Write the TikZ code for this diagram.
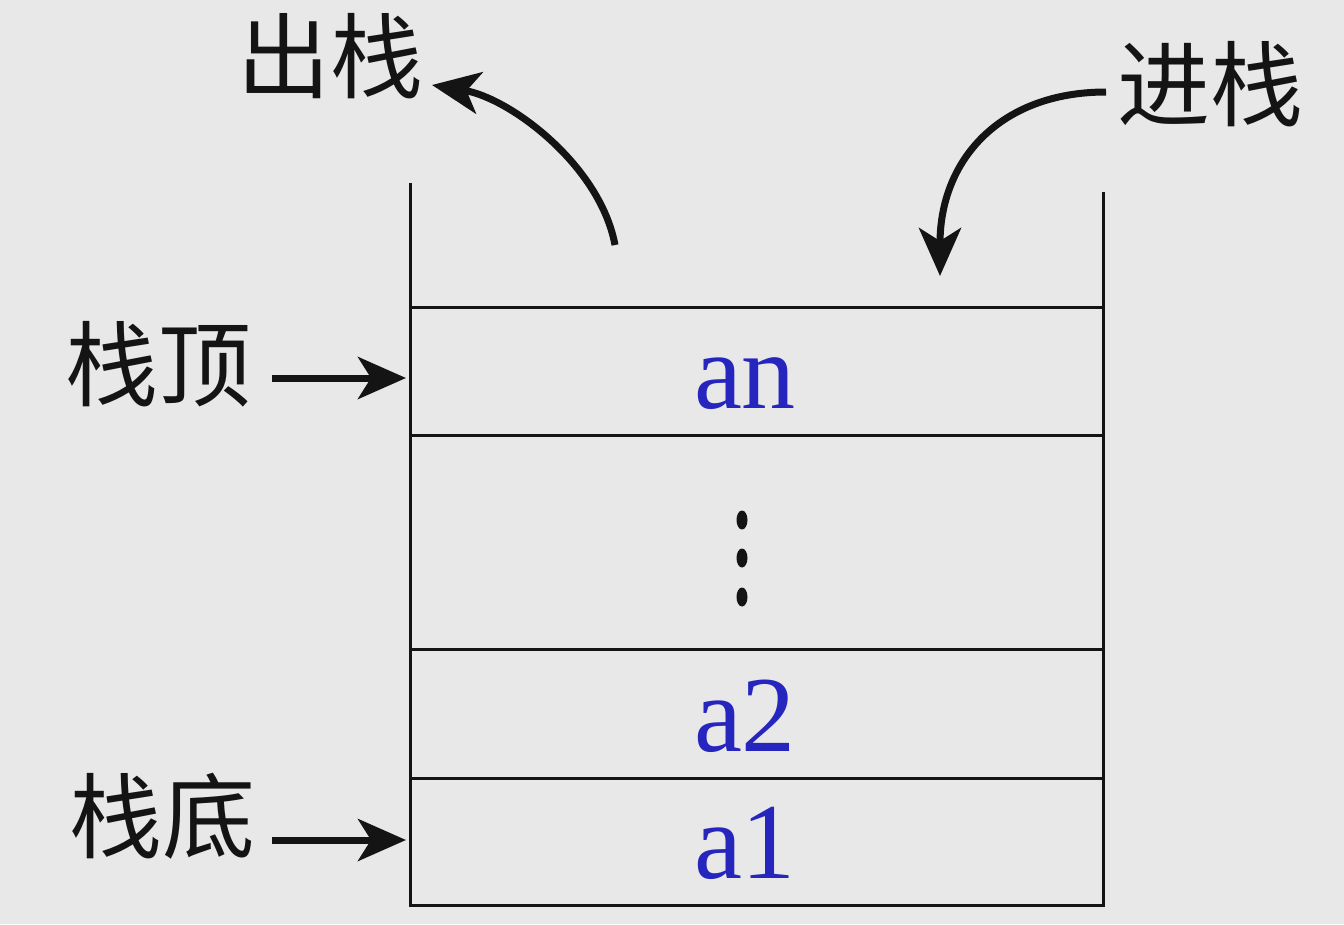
\documentclass[tikz,border=0pt]{standalone}
\usepackage{fontspec}
\setmainfont{Liberation Serif}
\newfontfamily\cjk{Noto Sans CJK SC}
\usetikzlibrary{arrows.meta}
\definecolor{bg}{HTML}{E8E8E8}
\definecolor{itemblue}{HTML}{2626BE}
\definecolor{ink}{HTML}{141414}
\begin{document}
\begin{tikzpicture}[x=1pt,y=-1pt,
  wall/.style={line width=3pt, ink},
  cn/.style={font=\cjk\fontsize{93}{100}\selectfont, inner sep=0pt, text=ink},
  item/.style={font=\fontsize{108}{120}\selectfont, text=itemblue, inner sep=0pt},
  bigarrow/.style={line width=7pt, ink, -{Stealth[length=48pt,width=42pt,inset=13pt]}}]
\fill[bg] (0,0) rectangle (1344,924);
\useasboundingbox (0,0) rectangle (1344,924);
% stack walls and cells
\draw[wall] (410,183) -- (410,905) -- (1103,905) -- (1103,192);
\foreach \y in {307,435,649,778} \draw[wall] (410,\y) -- (1103,\y);
% items
\node[item] (an) at (745,384) {an};
\node[item] (a2) at (745,716) {a2};
\node[item] (a1) at (745,843) {a1};
\node (dots) at (742,559) {};
\foreach \y in {520,558,597} \fill[ink] (742,\y) ellipse [x radius=5.5pt, y radius=9.5pt];
% labels
\node[cn] (pop) at (330,56) {出栈};
\node[cn] (push) at (1210,84) {进栈};
\node[cn, anchor=east] (top) at (252,364) {栈顶};
\node[cn, anchor=east] (bottom) at (256,816) {栈底};
% connector end points
\coordinate (popstart) at (615,245);
\coordinate (poptip) at (432,85);
\coordinate (pushstart) at (1106,92);
\coordinate (pushtip) at (940,276);
\coordinate (topptr) at (406,378);
\coordinate (botptr) at (406,840);
% arrows
\draw[bigarrow] (popstart) .. controls (600,165) and (510,98) .. (poptip);
\draw[bigarrow] (pushstart) .. controls (1000,92) and (940,160) .. (pushtip);
\draw[bigarrow] (top.east) ++(20,14) -- (topptr);
\draw[bigarrow] (bottom.east) ++(16,24) -- (botptr);
\end{tikzpicture}
\end{document}
